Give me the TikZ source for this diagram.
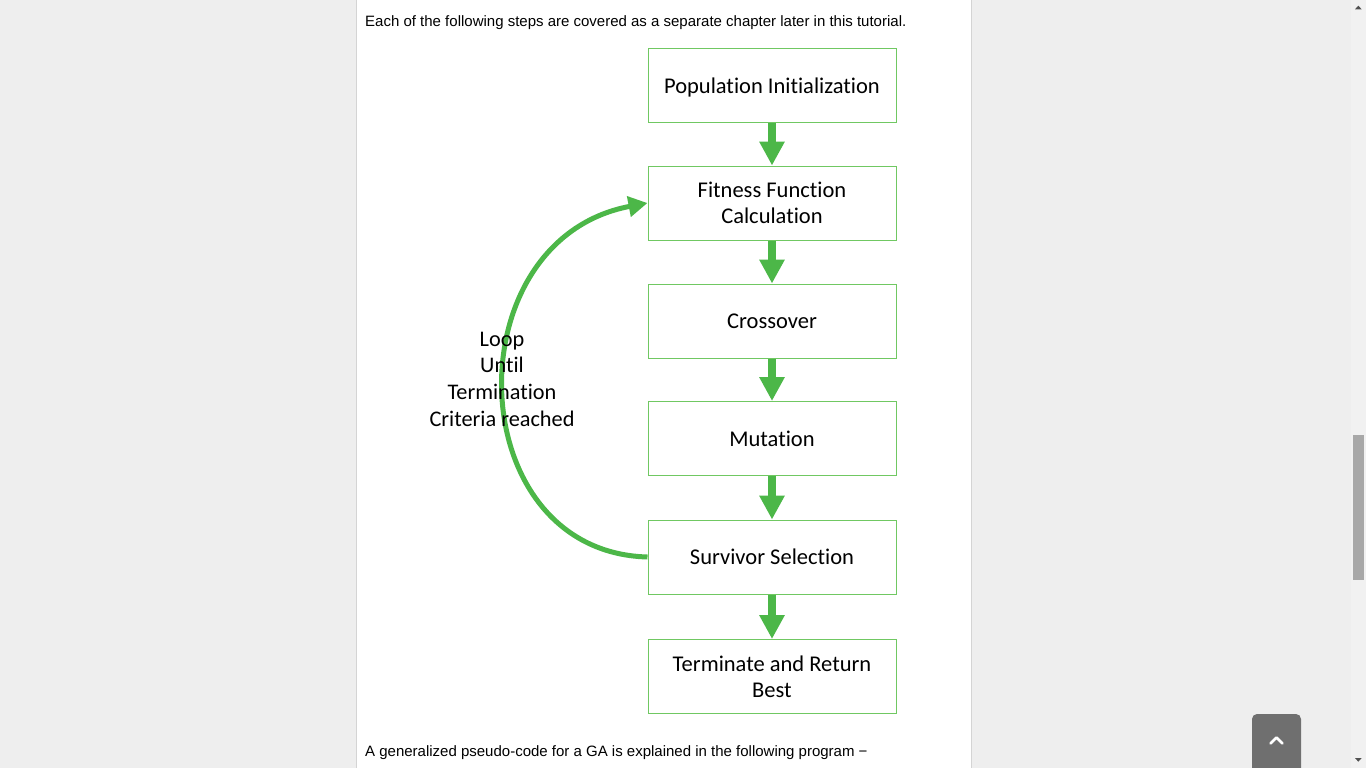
\documentclass[tikz,border=0pt]{standalone}
\usepackage{fontspec}
\setmainfont{Liberation Sans}
\newfontfamily\carlito[Ligatures={NoCommon,NoContextual}]{Carlito}
\usetikzlibrary{arrows.meta}
\definecolor{pagebg}{HTML}{EEEEEE}
\definecolor{panelline}{HTML}{D4D4D4}
\definecolor{arrowgreen}{RGB}{76,183,72}
\definecolor{boxgreen}{RGB}{112,200,98}
\definecolor{tracklight}{HTML}{F1F1F1}
\definecolor{thumbgray}{HTML}{A8A8A8}
\definecolor{btngray}{HTML}{6F6F6F}
\definecolor{scrollarrow}{HTML}{505050}
\tikzset{
  stepbox/.style={draw=boxgreen, line width=1pt, minimum width=248pt, minimum height=74pt,
    inner sep=0pt, align=center, text depth=0pt, font=\carlito\fontsize{22.5}{26.5}\selectfont},
  downarrow/.style={draw=arrowgreen, line width=8.5pt, -{Triangle[length=24pt,width=24pt]}},
  looparrow/.style={draw=arrowgreen, line width=5pt, -{Triangle[length=19pt,width=20pt]}},
  looplabel/.style={align=center, inner sep=0pt, font=\carlito\fontsize{22.3}{26.7}\selectfont},
  pagetext/.style={anchor=base west, inner sep=0pt, font=\fontsize{15}{18}\selectfont}
}
\begin{document}
\begin{tikzpicture}[x=1pt,y=-1pt]
\useasboundingbox (0,0) rectangle (1366,768);
% page background
\fill[pagebg] (0,0) rectangle (1366,768);
\fill[white] (356,0) rectangle (971,768);
\draw[panelline, line width=1pt] (356,0) -- (356,768);
\draw[panelline, line width=1pt] (971.5,0) -- (971.5,768);
% scrollbar
\fill[tracklight] (1351,0) rectangle (1366,768);
\fill[thumbgray] (1353,435) rectangle (1364,580);
\fill[scrollarrow] (1355,9.3) -- (1361.7,9.3) -- (1358.3,5.7) -- cycle;
\fill[scrollarrow] (1355,758) -- (1361.7,758) -- (1358.3,761.7) -- cycle;
% back to top button
\fill[btngray, rounded corners=5pt] (1252,790) -- (1252,714) -- (1301,714) -- (1301,790) -- cycle;
\draw[white, line width=2.6pt, line cap=round, line join=round] (1270.5,743.5) -- (1276.5,737.5) -- (1282.5,743.5);
% page texts
\node[pagetext] (intro) at (365,26.5) {Each of the following steps are covered as a separate chapter later in this tutorial.};
\node[pagetext] (outro) at (365,756.7) {A generalized pseudo-code for a GA is explained in the following program \textminus};
% flow boxes
\node[stepbox] (pop) at (772,85.5) {Population Initialization};
\node[stepbox] (fit) at (772,203) {Fitness Function\\Calculation};
\node[stepbox] (cross) at (772,321) {Crossover};
\node[stepbox] (mut) at (772,438.5) {Mutation};
\node[stepbox] (surv) at (772,557) {Survivor Selection};
\node[stepbox] (term) at (772,676.5) {Terminate and Return\\Best};
% down arrows
\draw[downarrow] (pop.south) -- (fit.north);
\draw[downarrow] (fit.south) -- (cross.north);
\draw[downarrow] (cross.south) -- (mut.north);
\draw[downarrow] (mut.south) -- (surv.north);
\draw[downarrow] (surv.south) -- (term.north);
% loop arc
\draw[looparrow] (surv.west) .. controls (460,552) and (452,240) .. (fit.west);
\node[looplabel] (loop) at (502,379) {Loop\\Until\\Termination\\Criteria reached};
\end{tikzpicture}
\end{document}
